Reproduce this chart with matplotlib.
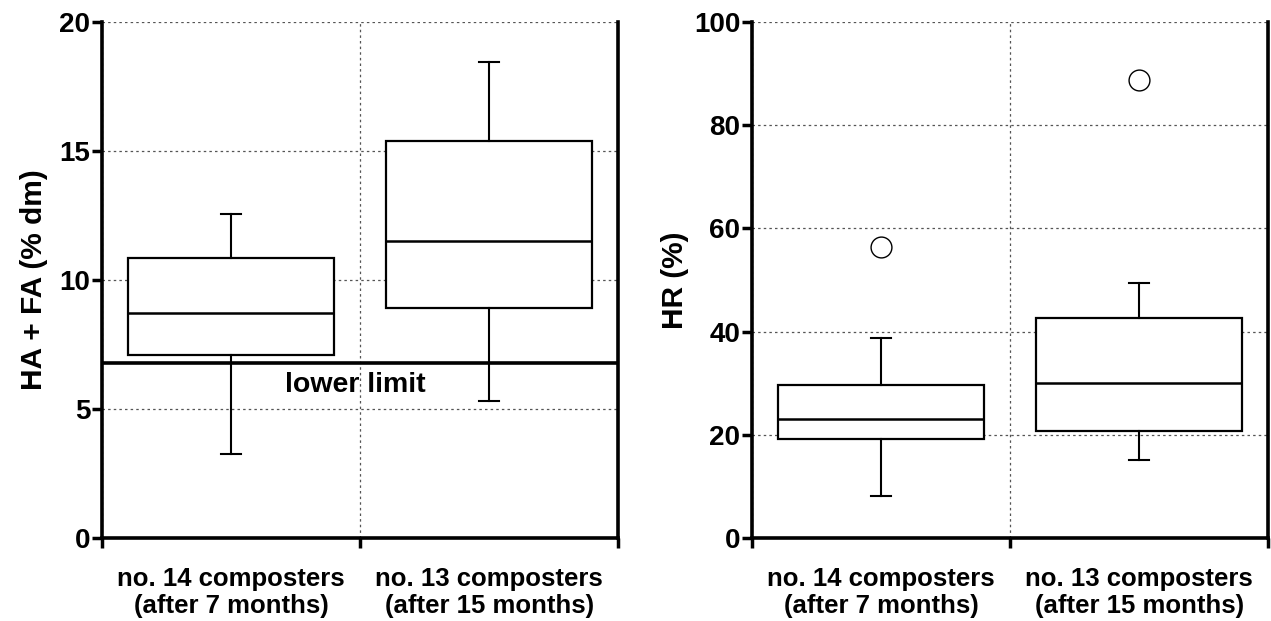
"""Boxplots of HA + FA content and humification ratio for two composter groups."""
import matplotlib.pyplot as plt

plt.rcParams["font.family"] = ["Liberation Sans", "DejaVu Sans"]
plt.rcParams["font.weight"] = "bold"

categories = ["no. 14 composters\n(after 7 months)", "no. 13 composters\n(after 15 months)"]

# HA + FA (% dm)
hafa_whislo = [3.24, 5.32]
hafa_q1 = [7.09, 8.92]
hafa_med = [8.70, 11.52]
hafa_q3 = [10.85, 15.37]
hafa_whishi = [12.55, 18.43]
lower_limit = 6.8

# HR (%)
hr_whislo = [8.1, 15.2]
hr_q1 = [19.1, 20.8]
hr_med = [23.1, 30.0]
hr_q3 = [29.6, 42.7]
hr_whishi = [38.8, 49.4]
hr_fliers = [[56.3], [88.8]]


def stats(lo, q1, med, q3, hi, fliers=None):
    out = []
    for i in range(len(lo)):
        out.append(dict(whislo=lo[i], q1=q1[i], med=med[i], q3=q3[i], whishi=hi[i],
                        fliers=fliers[i] if fliers else []))
    return out


def style_axes(ax, ymax, ystep, ylabel, label_x):
    ax.set_xlim(0, 2)
    ax.set_ylim(0, ymax)
    ax.set_yticks(range(0, ymax + 1, ystep))
    ax.set_xticks([0, 1, 2])
    ax.set_xticklabels([])
    ax.set_xticks([0.5, 1.5], minor=True)
    ax.set_xticklabels(categories, minor=True, fontsize=18.5, fontweight="bold",
                       linespacing=1.15)
    ax.tick_params(axis="x", which="major", direction="out", length=7, width=2.5)
    ax.tick_params(axis="x", which="minor", length=0, pad=21)
    ax.tick_params(axis="y", direction="out", length=7, width=2.5, labelsize=20, pad=1.5)
    for s in ax.spines.values():
        s.set_linewidth(2.6)
    ax.spines["top"].set_visible(False)
    ax.grid(True, which="major", linestyle=(0, (2, 2.5)), linewidth=0.9, color="#555555")
    ax.set_axisbelow(True)
    ax.set_ylabel(ylabel, fontsize=21.5, fontweight="bold")
    ax.yaxis.set_label_coords(label_x, 0.5)


def draw_boxes(ax, st):
    ax.bxp(st, positions=[0.5, 1.5], widths=0.8, patch_artist=True, capwidths=0.08,
           boxprops=dict(facecolor="white", edgecolor="black", linewidth=1.6),
           medianprops=dict(color="black", linewidth=1.8),
           whiskerprops=dict(color="black", linewidth=1.5),
           capprops=dict(color="black", linewidth=1.5),
           flierprops=dict(marker="o", markersize=15, markerfacecolor="white",
                           markeredgecolor="black", markeredgewidth=1.0),
           manage_ticks=False, zorder=3)


fig = plt.figure(figsize=(12.71, 6.21), dpi=100)
ax1 = fig.add_axes([0.0803, 0.1337, 0.406, 0.831])
ax2 = fig.add_axes([0.5917, 0.1337, 0.406, 0.831])

draw_boxes(ax1, stats(hafa_whislo, hafa_q1, hafa_med, hafa_q3, hafa_whishi))
ax1.axhline(lower_limit, color="black", linewidth=2.6, zorder=4)
ax1.text(0.98, lower_limit - 0.35, "lower limit", ha="center", va="top",
         fontsize=20.5, fontweight="bold")
style_axes(ax1, 20, 5, "HA + FA (% dm)", -0.105)

draw_boxes(ax2, stats(hr_whislo, hr_q1, hr_med, hr_q3, hr_whishi, hr_fliers))
style_axes(ax2, 100, 20, "HR (%)", -0.122)

fig.savefig("out.png", dpi=100)
